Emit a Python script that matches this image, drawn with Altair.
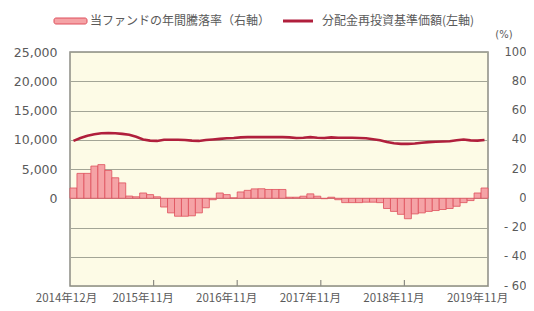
import altair as alt
import pandas as pd

# 60 monthly categories: 2014年12月 .. 2019年11月
months = []
y, m = 2014, 12
for _ in range(60):
    months.append(f"{y}年{m}月")
    m += 1
    if m > 12:
        m = 1
        y += 1

# 当ファンドの年間騰落率 (%), right axis
returns = [7, 17, 17, 22, 23, 19, 14, 10.5, 1.5, 1, 3.6, 2.5,
           1, -6, -10, -12.3, -12.3, -12, -10, -6.5, -1, 3.6,
           2.5, 0.3, 4.3, 5.4, 6.4, 6.5, 6, 6, 6, 0.7,
           0.7, 1.4, 3, 1.4, -0.3, 0.7, -1, -3, -3, -3,
           -2.7, -2.7, -3, -7, -9, -11, -14, -10.7, -10, -9,
           -8.4, -7.7, -7, -5.5, -3, -1.6, 3.6, 7]

# 分配金再投資基準価額 (円), left axis
nav = [9800, 10300, 10700, 10950, 11100, 11150, 11100, 11000, 10850, 10500,
       10050, 9850, 9800, 10000, 10000, 10000, 9950, 9850, 9800, 9950,
       10050, 10150, 10250, 10300, 10400, 10450, 10450, 10450, 10450, 10450,
       10450, 10400, 10300, 10350, 10450, 10350, 10300, 10400, 10350, 10350,
       10350, 10300, 10250, 10100, 9900, 9600, 9400, 9300, 9300, 9350,
       9500, 9600, 9650, 9700, 9750, 9900, 10050, 9900, 9850, 9950]

label_idx = [0, 11, 23, 35, 47, 59]
tick_idx = [12, 24, 36, 48]

legend_bar = "当ファンドの年間騰落率（右軸）"
legend_line = "分配金再投資基準価額(左軸)"

W, H = 418, 234
FONT_NUM = "DejaVu Sans"
FONT_JP = "Noto Sans CJK JP"
GRAY = "#5a5a5a"
BAR_FILL = "#f5a3a6"
BAR_STROKE = "#de4f5c"
LINE_COL = "#b01f3c"

df = pd.DataFrame({"month": months, "ret": returns, "nav": nav})
ticks_df = pd.DataFrame({"month": [months[i] for i in tick_idx]})
one = pd.DataFrame({"a": [0]})

xscale = alt.Scale(type="band", domain=months, paddingInner=0, paddingOuter=0)
xaxis = alt.Axis(values=[months[i] for i in label_idx], title=None, ticks=False,
                 domain=False, grid=False, labelAngle=0, labelFont=FONT_JP,
                 labelFontSize=11.5, labelColor=GRAY, labelPadding=6,
                 labelOffset=-7, labelOverlap=False, labelBound=False)

bars = alt.Chart(df).mark_bar(fill=BAR_FILL, stroke=BAR_STROKE, strokeWidth=0.8).encode(
    x=alt.X("month:O", sort=months, scale=xscale, axis=xaxis),
    y=alt.Y("ret:Q", scale=alt.Scale(domain=[-60, 100], nice=False, zero=True),
            axis=alt.Axis(orient="right", values=list(range(-60, 101, 20)),
                          labelExpr="datum.value < 0 ? '- ' + abs(datum.value) : datum.value",
                          title=None, ticks=False, domain=False, grid=True,
                          gridColor="#a3a596", gridWidth=1.2,
                          labelFont=FONT_NUM, labelFontSize=11.5, labelColor=GRAY,
                          labelAlign="right", labelPadding=38)),
)

line = alt.Chart(df).mark_line(color=LINE_COL, strokeWidth=2.6).encode(
    x=alt.X("month:O", sort=months, scale=xscale, bandPosition=0.5, axis=xaxis),
    y=alt.Y("nav:Q", scale=alt.Scale(domain=[-15000, 25000], nice=False),
            axis=alt.Axis(orient="left", values=list(range(0, 25001, 5000)), format=",.0f",
                          title=None, ticks=False, domain=False, grid=False,
                          labelFont=FONT_NUM, labelFontSize=12.5, labelColor=GRAY,
                          labelPadding=13)),
)

tick_rules = alt.Chart(ticks_df).mark_rule(color="#8c8c84", strokeWidth=1.2).encode(
    x=alt.X("month:O", sort=months, scale=xscale, bandPosition=0, axis=xaxis),
    y=alt.value(H - 6), y2=alt.value(H),
)

leg_rect = alt.Chart(one).mark_rect(fill=BAR_FILL, stroke=BAR_STROKE, strokeWidth=1,
                                    cornerRadius=2).encode(
    x=alt.value(-16), x2=alt.value(17), y=alt.value(-34), y2=alt.value(-28))
leg_text1 = alt.Chart(one).mark_text(text=legend_bar, align="left", baseline="middle",
                                     font=FONT_JP, fontSize=12, color=GRAY).encode(
    x=alt.value(20), y=alt.value(-31))
leg_line = alt.Chart(one).mark_rule(color=LINE_COL, strokeWidth=3).encode(
    x=alt.value(213), x2=alt.value(243), y=alt.value(-31))
leg_text2 = alt.Chart(one).mark_text(text=legend_line, align="left", baseline="middle",
                                     font=FONT_JP, fontSize=12, color=GRAY).encode(
    x=alt.value(252), y=alt.value(-31))
pct = alt.Chart(one).mark_text(text="(%)", align="center", baseline="middle",
                               font=FONT_NUM, fontSize=10, color=GRAY).encode(
    x=alt.value(W + 16), y=alt.value(-17))

chart = alt.layer(bars, line, tick_rules, leg_rect, leg_text1, leg_line, leg_text2, pct).resolve_scale(
    y="independent"
).properties(
    width=W, height=H,
    autosize=alt.AutoSizeParams(type="none"),
    padding={"left": 62, "top": 44, "right": 38, "bottom": 17},
    background="white",
).configure_view(
    fill="#fdfbe6", stroke="#8c8c84", strokeWidth=1.5
)

chart.save("out.html", embed_options={"renderer": "svg", "actions": False})
